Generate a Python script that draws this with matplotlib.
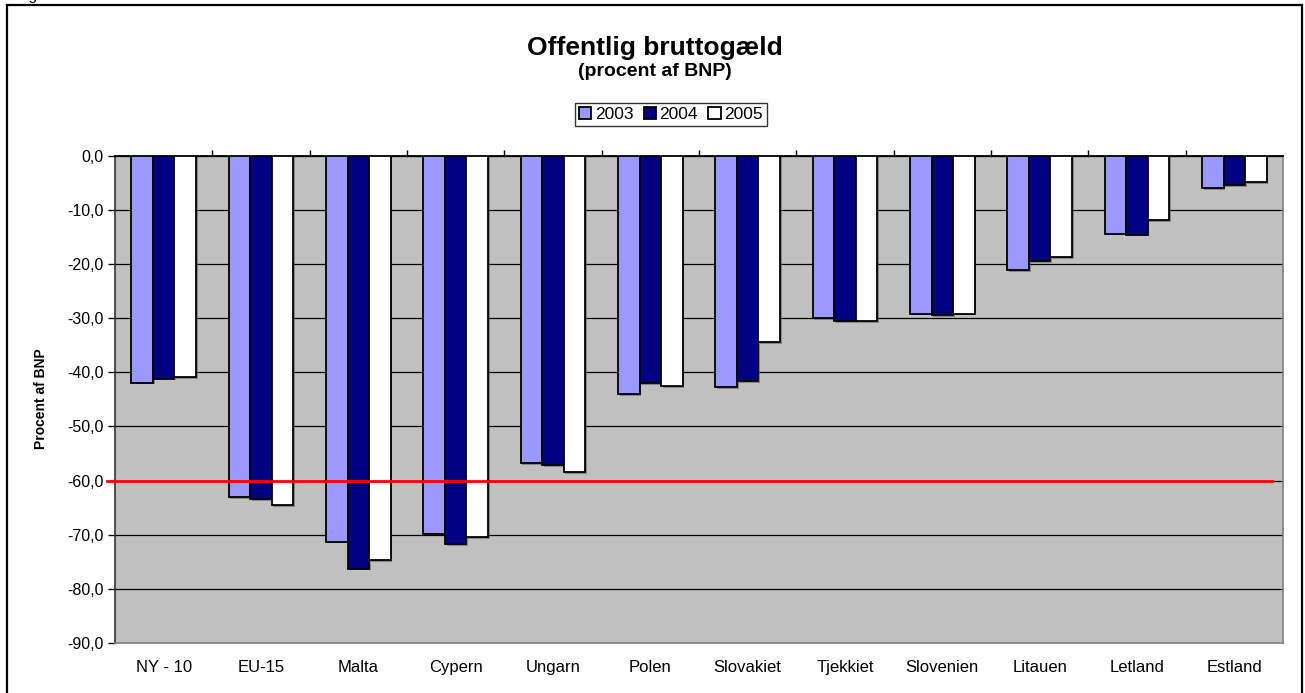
import matplotlib
matplotlib.use("Agg")
import matplotlib.pyplot as plt
import matplotlib.patheffects as pe
from matplotlib.patches import Rectangle
from matplotlib.ticker import FixedLocator, FuncFormatter, NullFormatter
import numpy as np

plt.rcParams["font.family"] = ["Liberation Sans", "DejaVu Sans"]

countries = ["NY - 10", "EU-15", "Malta", "Cypern", "Ungarn", "Polen",
             "Slovakiet", "Tjekkiet", "Slovenien", "Litauen", "Letland", "Estland"]
years = ["2003", "2004", "2005"]
debt_2003 = [-41.9, -63.1, -71.3, -69.8, -56.8, -44.0, -42.8, -30.0, -29.2, -21.2, -14.4, -6.0]
debt_2004 = [-41.2, -63.4, -76.3, -71.8, -57.1, -42.0, -41.7, -30.6, -29.5, -19.5, -14.6, -5.4]
debt_2005 = [-40.9, -64.6, -74.7, -70.4, -58.5, -42.6, -34.5, -30.5, -29.2, -18.8, -11.9, -4.9]
threshold = -60.0

COLORS = ["#9999FF", "#000080", "#FFFFFF"]
PLOT_BG = "#C0C0C0"

W, H = 1305, 693
fig = plt.figure(figsize=(W / 100, H / 100), dpi=100)

# outer frame (runs past the bottom edge)
fig.patches.append(Rectangle((7 / W, -0.05), 1295 / W, 1.05 - 5 / H, transform=fig.transFigure,
                             fill=False, ec="black", lw=1.6))
fig.text(17 / W, 1.0, "Figur", fontsize=11, va="baseline", ha="left")

ax = fig.add_axes([115 / W, 1 - 643 / H, 1168 / W, (643 - 155.7) / H])
ax.set_facecolor(PLOT_BG)

x = np.arange(len(countries))
bw = 1 / 4.5
shadow = [pe.SimplePatchShadow(offset=(1.2, -1.2), shadow_rgbFace="#606060", alpha=0.6), pe.Normal()]
for i, (vals, c, lab) in enumerate(zip([debt_2003, debt_2004, debt_2005], COLORS, years)):
    bars = ax.bar(x + (i - 1) * bw, vals, width=bw, color=c, edgecolor="black",
                  linewidth=1.3, label=lab, zorder=3)
    for b in bars:
        b.set_path_effects(shadow)

ax.axhline(threshold, xmin=-0.007, xmax=0.9906, color="#FF0000", lw=2.0, zorder=5, clip_on=False)

ax.set_xlim(-0.5, len(countries) - 0.5)
ax.set_ylim(-90, 0)
ax.yaxis.set_major_locator(FixedLocator(np.arange(-90, 1, 10)))
ax.yaxis.set_major_formatter(FuncFormatter(lambda v, p: f"{v:.1f}".replace(".", ",")))
ax.grid(axis="y", color="black", lw=0.9, zorder=1)
ax.set_axisbelow(True)

# category axis sits at zero (top); labels stay at the bottom
ax.set_xticks(x)
ax.set_xticklabels(countries, fontsize=12)
ax.xaxis.set_minor_locator(FixedLocator(np.arange(0.5, len(countries) - 0.5, 1)))
ax.xaxis.set_minor_formatter(NullFormatter())
ax.tick_params(axis="x", which="major", length=0, pad=12)
ax.tick_params(axis="x", which="minor", bottom=False, top=True, direction="out",
               length=4, width=1, color="black")
ax.tick_params(axis="y", direction="out", length=5, width=1, labelsize=11.5, pad=3)

ax.spines["top"].set_color("black")
ax.spines["top"].set_linewidth(1.3)
ax.spines["left"].set_color("#333333")
ax.spines["left"].set_linewidth(1.2)
ax.spines["bottom"].set_color("#808080")
ax.spines["right"].set_color("#808080")
ax.spines["bottom"].set_linewidth(1.2)
ax.spines["right"].set_linewidth(1.2)

fig.text(41 / W, 1 - 399 / H, "Procent af BNP", rotation=90, fontsize=10, fontweight="bold",
         ha="center", va="center")

fig.text(655 / W, 1 - 55 / H, "Offentlig bruttogæld", fontsize=19, fontweight="bold",
         ha="center", va="baseline")
fig.text(655 / W, 1 - 76 / H, "(procent af BNP)", fontsize=14, fontweight="bold",
         ha="center", va="baseline")

leg = ax.legend(loc="center", bbox_to_anchor=(671 / W, 1 - 114.5 / H),
                bbox_transform=fig.transFigure, ncol=3, fontsize=12.5, frameon=True,
                fancybox=False, handlelength=0.7, handleheight=0.7, handletextpad=0.2,
                columnspacing=0.6, borderpad=0.25, borderaxespad=0)
leg.get_frame().set_edgecolor("black")
leg.get_frame().set_linewidth(1.0)
for h in leg.legend_handles:
    h.set_path_effects([])

fig.savefig("out.png", dpi=100)
